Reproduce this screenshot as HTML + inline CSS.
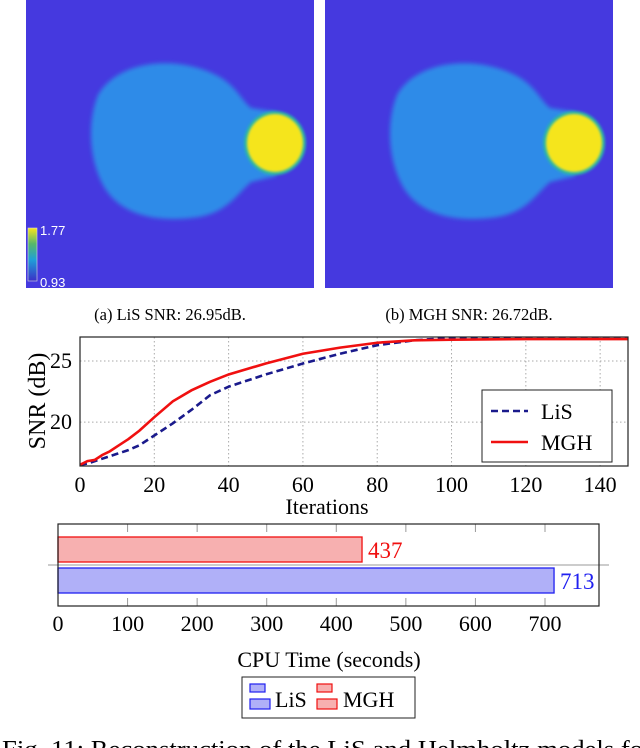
<!DOCTYPE html>
<html><head><meta charset="utf-8"><style>
html,body{margin:0;padding:0;background:#fff;width:640px;height:748px;overflow:hidden}
svg{display:block;font-family:"Liberation Serif",serif}
</style></head><body>
<svg width="640" height="748" viewBox="0 0 640 748">
<defs>
<filter id="bl" x="-20%" y="-20%" width="140%" height="140%"><feGaussianBlur stdDeviation="2.2"/></filter>
<filter id="bl2" x="-20%" y="-20%" width="140%" height="140%"><feGaussianBlur stdDeviation="1.2"/></filter>
<linearGradient id="cb" x1="0" y1="0" x2="0" y2="1"><stop offset="0" stop-color="#f9e31c"/><stop offset="0.3" stop-color="#56b86a"/><stop offset="0.6" stop-color="#1f9fd8"/><stop offset="1" stop-color="#3b2fc8"/></linearGradient>
<g id="phantom">
<rect x="0" y="0" width="288" height="288" fill="#4539df"/>
<g filter="url(#bl)" fill="#2f8be8">
<path d="M72,95 C92,60 150,55 190,75 C210,85 215,100 225,108 L250,112 L250,176 L225,182 C210,195 200,215 165,218 C130,222 97,215 80,190 C64,165 60,125 72,95 Z"/>
</g>
<ellipse cx="249" cy="143" rx="31" ry="32" fill="#2bb5a8" filter="url(#bl2)"/>
<ellipse cx="249" cy="143" rx="28" ry="29" fill="#f5e51f" filter="url(#bl2)"/>
</g>
</defs>
<g><use href="#phantom" x="26"/></g>
<g><use href="#phantom" x="325"/></g>
<g>
<rect x="28" y="228" width="9" height="53" fill="url(#cb)" stroke="#ddd" stroke-width="0.6"/>
<text x="40" y="235" font-family="Liberation Sans,sans-serif" font-size="13" fill="#fff">1.77</text>
<text x="40" y="287" font-family="Liberation Sans,sans-serif" font-size="13" fill="#fff">0.93</text>
</g>
<text x="170" y="320" text-anchor="middle" font-size="16.5">(a) LiS SNR: 26.95dB.</text>
<text x="469" y="320" text-anchor="middle" font-size="16.5">(b) MGH SNR: 26.72dB.</text>
<g id="line-chart"></g>
<g id="bar-chart"></g>
<text x="2" y="757" font-size="24" textLength="650" lengthAdjust="spacingAndGlyphs">Fig. 11: Reconstruction of the LiS and Helmholtz models for</text>
</svg>
<script>
const iterX = [0,2,4,6,8,10,13,16,20,25,30,35,40,50,60,70,80,90,100,120,150];
const lisSNR = [16.5,16.6,16.8,17.0,17.2,17.4,17.7,18.1,18.9,19.9,21.0,22.2,22.9,23.9,24.8,25.6,26.3,26.7,26.9,27.0,27.0];
const mghSNR = [16.5,16.8,16.9,17.3,17.6,18.0,18.6,19.3,20.4,21.7,22.6,23.3,23.9,24.8,25.6,26.1,26.5,26.7,26.75,26.8,26.8];
const xTicks = [0,20,40,60,80,100,120,140];
const yTicks = [20,25];
const barNames = ["MGH","LiS"];
const barValues = [437,713];
const barTicks = [0,100,200,300,400,500,600,700];
const NS="http://www.w3.org/2000/svg";
function mk(p,t,a,txt){const e=document.createElementNS(NS,t);for(const k in a)e.setAttribute(k,a[k]);if(txt!==undefined)e.textContent=txt;p.appendChild(e);return e;}
const L=document.getElementById('line-chart');
const x0=80,x1=628,y0=337,y1=466,xmax=147.5,ymin=16.4,ymax=26.97;
const sx=v=>x0+(x1-x0)*v/xmax, sy=v=>y1-(y1-y0)*(v-ymin)/(ymax-ymin);
xTicks.forEach(t=>{
 const g=mk(L,'line',{x1:sx(t),x2:sx(t),y1:y0,y2:y1,stroke:'#aaa','stroke-dasharray':'1.5 2.5','stroke-width':1});
 
 
 const tx=mk(L,'text',{x:sx(t),y:492,'text-anchor':'middle','font-size':22},t);
 
 
});
yTicks.forEach(t=>{
 const g=mk(L,'line',{x1:x0,x2:x1,y1:sy(t),y2:sy(t),stroke:'#aaa','stroke-dasharray':'1.5 2.5','stroke-width':1});
 
 
 const tx=mk(L,'text',{x:72,y:sy(t)+7,'text-anchor':'end','font-size':22},t);
 
 
});
const pts=a=>a.map((v,i)=>sx(iterX[i])+','+sy(v)).join(' ');
const cp=mk(L,'clipPath',{id:'lc'});mk(cp,'rect',{x:x0,y:y0,width:x1-x0,height:y1-y0});
const lis=mk(L,'polyline',{points:pts(lisSNR),fill:'none',stroke:'#1a1a8c','stroke-width':2.6,'stroke-dasharray':'7 4','clip-path':'url(#lc)'});


const mgh=mk(L,'polyline',{points:pts(mghSNR),fill:'none',stroke:'#f01010','stroke-width':2.6,'clip-path':'url(#lc)'});


const fr=mk(L,'rect',{x:x0,y:y0,width:x1-x0,height:y1-y0,fill:'none',stroke:'#222','stroke-width':1.2});


const yt=mk(L,'text',{x:0,y:0,'text-anchor':'middle','font-size':24,transform:'translate(45,401) rotate(-90)'},'SNR (dB)');


const xt=mk(L,'text',{x:327,y:514,'text-anchor':'middle','font-size':22},'Iterations');


const lg=mk(L,'g',{});


mk(lg,'rect',{x:482,y:390,width:130,height:72,fill:'#fff',stroke:'#222','stroke-width':1});
mk(lg,'line',{x1:491,x2:528,y1:411,y2:411,stroke:'#1a1a8c','stroke-width':2.6,'stroke-dasharray':'7 4'});
mk(lg,'text',{x:541,y:419,'font-size':22},'LiS');
mk(lg,'line',{x1:491,x2:528,y1:442,y2:442,stroke:'#f01010','stroke-width':2.6});
mk(lg,'text',{x:541,y:450,'font-size':22},'MGH');
const B=document.getElementById('bar-chart');
const bx0=58,bx1=599,by0=524,by1=606;
const bs=v=>bx0+(545-bx0)*v/700;
barTicks.forEach(t=>{
 mk(B,'line',{x1:bs(t),x2:bs(t),y1:by0,y2:by0+8,stroke:'#999','stroke-width':1});
 mk(B,'line',{x1:bs(t),x2:bs(t),y1:by1-8,y2:by1,stroke:'#999','stroke-width':1});
 const tx=mk(B,'text',{x:bs(t),y:631,'text-anchor':'middle','font-size':22},t);
 
 
});
mk(B,'line',{x1:48,x2:609,y1:565,y2:565,stroke:'#999','stroke-width':1});
const cols=[{s:'#f01010',f:'#f7b0b0'},{s:'#2020f0',f:'#b0b0f8'}];
const bys=[537,568];
barNames.forEach((n,i)=>{
 const r=mk(B,'rect',{x:bx0,y:bys[i],width:bs(barValues[i])-bx0,height:25,fill:cols[i].f,stroke:cols[i].s,'stroke-width':1.3});
 
 
 const t=mk(B,'text',{x:bs(barValues[i])+6,y:bys[i]+21,'font-size':23,fill:cols[i].s},barValues[i]);
 
 
});
const bf=mk(B,'rect',{x:bx0,y:by0,width:bx1-bx0,height:by1-by0,fill:'none',stroke:'#222','stroke-width':1.2});


const bt=mk(B,'text',{x:329,y:667,'text-anchor':'middle','font-size':22},'CPU Time (seconds)');


const bl=mk(B,'g',{});


mk(bl,'rect',{x:242,y:677,width:173,height:41,fill:'#fff',stroke:'#222','stroke-width':1});
mk(bl,'rect',{x:250,y:684,width:15,height:8,fill:'#b0b0f8',stroke:'#2020f0','stroke-width':1.2});
mk(bl,'rect',{x:250,y:699,width:20,height:10,fill:'#b0b0f8',stroke:'#2020f0','stroke-width':1.2});
mk(bl,'text',{x:275,y:707,'font-size':22},'LiS');
mk(bl,'rect',{x:317,y:684,width:15,height:8,fill:'#f7b0b0',stroke:'#f01010','stroke-width':1.2});
mk(bl,'rect',{x:317,y:699,width:20,height:10,fill:'#f7b0b0',stroke:'#f01010','stroke-width':1.2});
mk(bl,'text',{x:343,y:707,'font-size':22},'MGH');
</script>
</body></html>
